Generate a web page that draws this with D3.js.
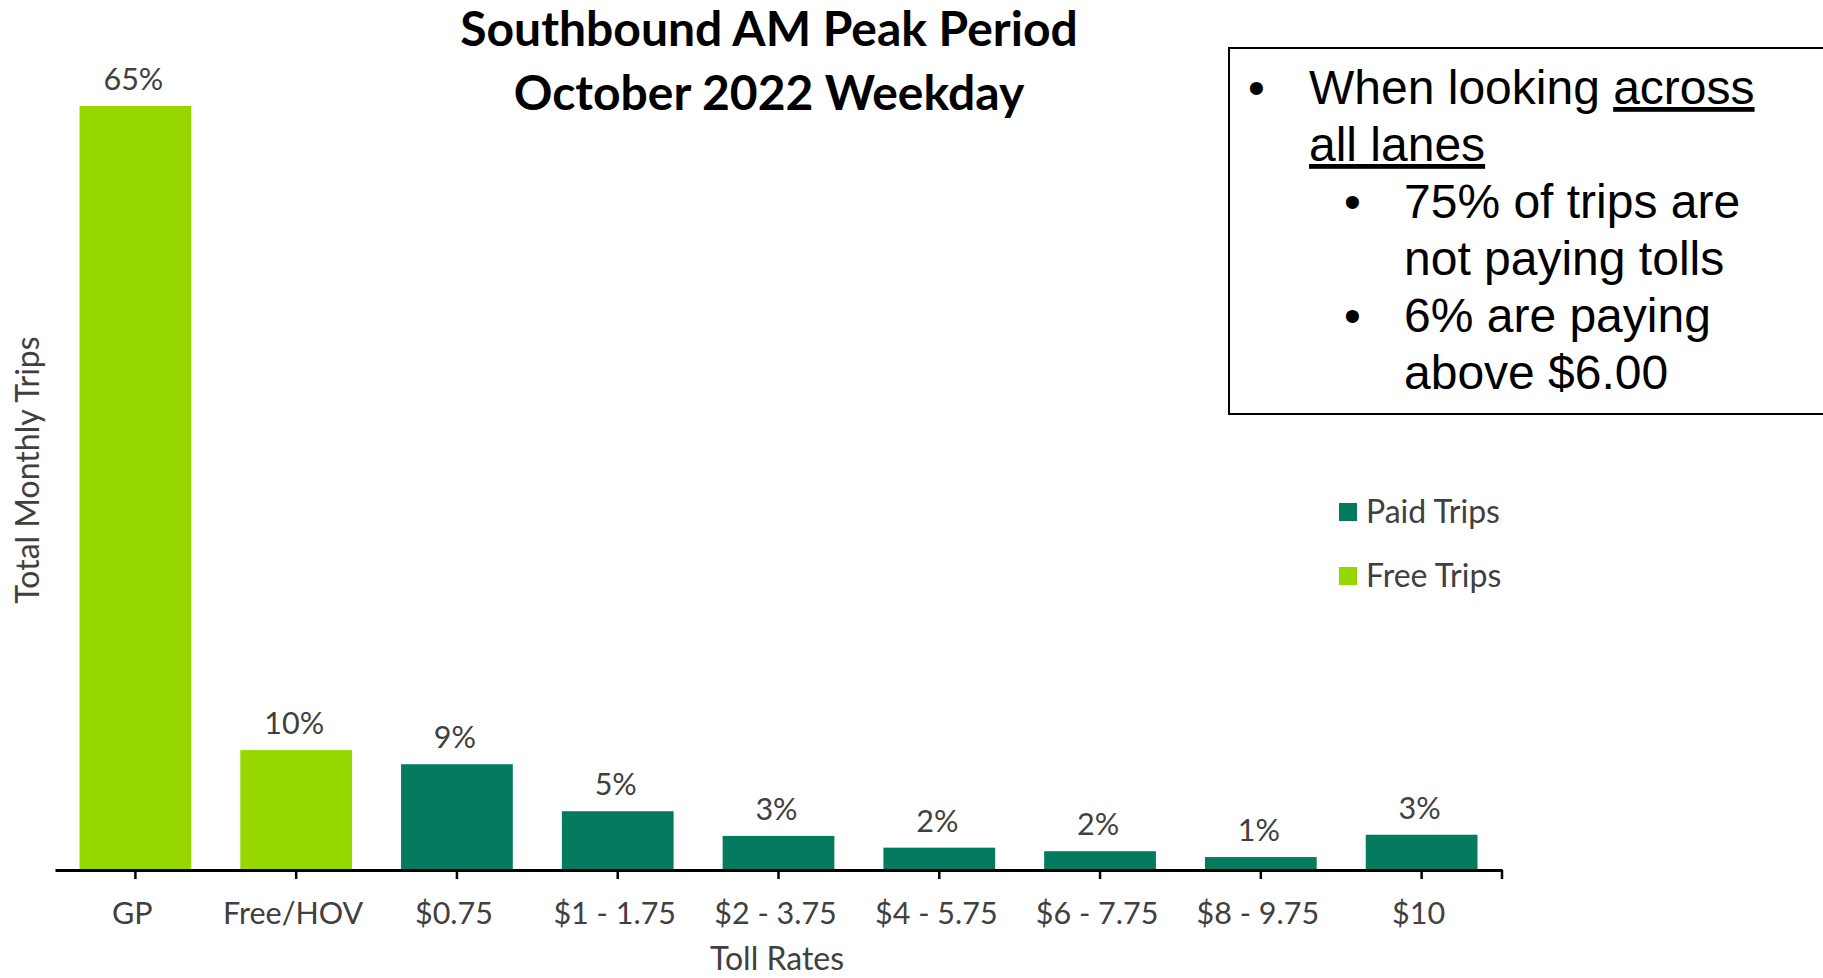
<!DOCTYPE html>
<html>
<head>
<meta charset="utf-8">
<script src="https://cdn.jsdelivr.net/npm/d3@7"></script>
<style>
  body { margin: 0; background: #fff; }
  svg { display: block; }
</style>
</head>
<body>
<svg></svg>
<script>
const categories = ["GP", "Free/HOV", "$0.75", "$1 - 1.75", "$2 - 3.75", "$4 - 5.75", "$6 - 7.75", "$8 - 9.75", "$10"]
const shares = [65.0, 10.2, 9.0, 5.0, 2.9, 1.9, 1.6, 1.1, 3.0]
const tripType = ["Free", "Free", "Paid", "Paid", "Paid", "Paid", "Paid", "Paid", "Paid"]
const legendItems = ["Paid Trips", "Free Trips"]
const titleLines = ["Southbound AM Peak Period", "October 2022 Weekday"]
const noteLines = [
  { level: 1, parts: [["When looking ", false], ["across", true]] },
  { level: 1, parts: [["all lanes", true]], cont: true },
  { level: 2, parts: [["75% of trips are", false]] },
  { level: 2, parts: [["not paying tolls", false]], cont: true },
  { level: 2, parts: [["6% are paying", false]] },
  { level: 2, parts: [["above $6.00", false]], cont: true }
]

const width = 1823
const height = 978
const chartFont = "Lato, 'Noto Sans', sans-serif"
const noteFont = "'Liberation Sans', Arial, sans-serif"
const textGrey = "#404040"
const color = d3.scaleOrdinal().domain(["Paid", "Free"]).range(["#047a5e", "#97d700"])

const svg = d3.select("svg")
  .attr("width", width)
  .attr("height", height)

const x = d3.scaleBand()
  .domain(categories)
  .range([55, 1502])
  .paddingInner(0.305)
  .paddingOuter(0.1525)

const y = d3.scaleLinear()
  .domain([0, 65])
  .range([870, 106])

const rows = categories.map((c, i) => ({ cat: c, value: shares[i], type: tripType[i] }))

// bars
svg.append("g")
  .selectAll("rect")
  .data(rows)
  .enter().append("rect")
    .attr("x", d => x(d.cat))
    .attr("y", d => y(d.value))
    .attr("width", x.bandwidth())
    .attr("height", d => y(0) - y(d.value))
    .attr("fill", d => color(d.type))

// value labels
svg.append("g")
  .selectAll("text")
  .data(rows)
  .enter().append("text")
    .attr("x", d => x(d.cat) + x.bandwidth() / 2 - 2)
    .attr("y", d => y(d.value) - 16)
    .attr("text-anchor", "middle")
    .attr("font-family", chartFont)
    .attr("font-size", 30.5)
    .attr("fill", textGrey)
    .text(d => d3.format(".0f")(d.value) + "%")

// x axis
const xAxis = svg.append("g")
  .attr("transform", `translate(0,${y(0)})`)
  .call(d3.axisBottom(x).tickSize(9).tickSizeOuter(0))

xAxis.select(".domain").attr("stroke", "#000").attr("stroke-width", 3)
xAxis.selectAll(".tick line").attr("stroke", "#000").attr("stroke-width", 2.5)
xAxis.selectAll(".tick text")
  .attr("x", -3)
  .attr("y", 54)
  .attr("dy", null)
  .attr("font-family", chartFont)
  .attr("font-size", 30.5)
  .attr("fill", textGrey)

xAxis.append("line")
  .attr("x1", x.range()[1]).attr("x2", x.range()[1])
  .attr("y1", 0).attr("y2", 9)
  .attr("stroke", "#000").attr("stroke-width", 2.5)

// axis titles
svg.append("text")
  .attr("x", 777)
  .attr("y", 970)
  .attr("text-anchor", "middle")
  .attr("font-family", chartFont)
  .attr("font-size", 32)
  .attr("fill", textGrey)
  .text("Toll Rates")

svg.append("text")
  .attr("transform", "translate(39,470) rotate(-90)")
  .attr("text-anchor", "middle")
  .attr("font-family", chartFont)
  .attr("font-size", 32)
  .attr("fill", textGrey)
  .text("Total Monthly Trips")

// title
svg.append("g")
  .selectAll("text")
  .data(titleLines)
  .enter().append("text")
    .attr("x", 769)
    .attr("y", (d, i) => 46 + i * 64)
    .attr("text-anchor", "middle")
    .attr("font-family", chartFont)
    .attr("font-weight", "bold")
    .attr("font-size", 48)
    .attr("fill", "#000")
    .text(d => d)

// legend
const legend = svg.append("g")
  .selectAll("g")
  .data(legendItems)
  .enter().append("g")
    .attr("transform", (d, i) => `translate(1339,${503 + i * 64})`)

legend.append("rect")
  .attr("width", 18)
  .attr("height", 18)
  .attr("fill", d => color(d.split(" ")[0]))

legend.append("text")
  .attr("x", 27)
  .attr("y", 20)
  .attr("font-family", chartFont)
  .attr("font-size", 32)
  .attr("fill", textGrey)
  .text(d => d)

// note box
const note = svg.append("g")

note.append("rect")
  .attr("x", 1229)
  .attr("y", 48)
  .attr("width", 620)
  .attr("height", 366)
  .attr("fill", "#fff")
  .attr("stroke", "#000")
  .attr("stroke-width", 2)

const noteText = note.selectAll("g.line")
  .data(noteLines)
  .enter().append("g")
    .attr("class", "line")

noteText.filter(d => !d.cont).append("text")
  .attr("x", d => d.level === 1 ? 1248 : 1344)
  .attr("y", d => 104 + noteLines.indexOf(d) * 57)
  .attr("font-family", noteFont)
  .attr("font-size", 48)
  .text("•")

noteText.append("text")
  .attr("x", d => d.level === 1 ? 1309 : 1404)
  .attr("y", (d, i) => 104 + i * 57)
  .attr("font-family", noteFont)
  .attr("font-size", 48)
  .attr("fill", "#000")
  .selectAll("tspan")
  .data(d => d.parts)
  .enter().append("tspan")
    .style("text-decoration", p => p[1] ? "underline" : "none")
    .attr("xml:space", "preserve")
    .text(p => p[0])
</script>
</body>
</html>
